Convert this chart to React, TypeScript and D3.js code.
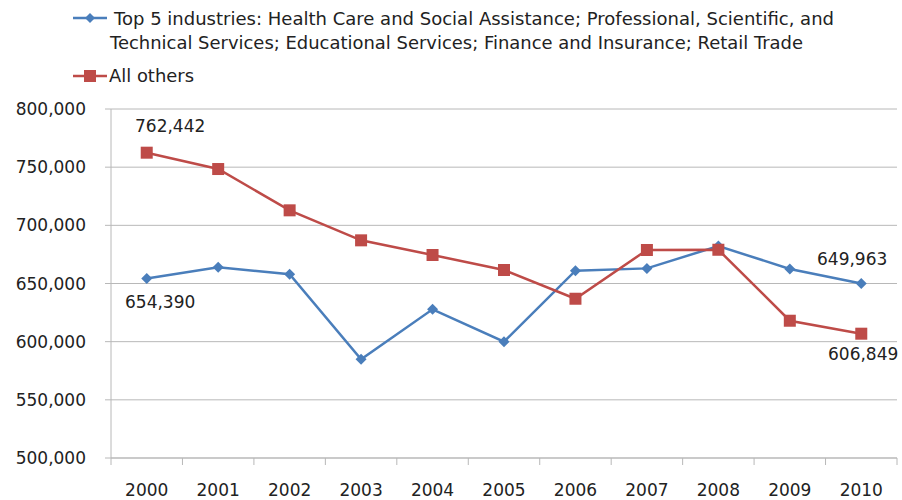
import React from "react";
import * as d3 from "d3";

const years = ["2000","2001","2002","2003","2004","2005","2006","2007","2008","2009","2010"];
const top5 = [654390, 663900, 657900, 584800, 627800, 600000, 661000, 663000, 682200, 662500, 649963];
const others = [762442, 748400, 712900, 687100, 674500, 661600, 636900, 678800, 679000, 618000, 606849];
const yTicks = [500000, 550000, 600000, 650000, 700000, 750000, 800000];
const legendTop5 = ["Top 5 industries: Health Care and Social Assistance; Professional, Scientific, and", "Technical Services; Educational Services; Finance and Insurance; Retail Trade"];
const legendOthers = "All others";

const BLUE = "#4a7ebb";
const RED = "#be4b48";

export default function App() {
  const W = 902, H = 500;
  const left = 111, right = 897, top = 109, bottom = 458;
  const x = d3.scaleBand().domain(years).range([left, right]);
  const y = d3.scaleLinear().domain([500000, 800000]).range([bottom, top]);
  const cx = (yr: string) => (x(yr) as number) + x.bandwidth() / 2;
  const line = d3.line<number>().x((_, i) => cx(years[i])).y((v) => y(v));
  const fmt = d3.format(",");
  const font = "DejaVu Sans, Verdana, sans-serif";
  const diamond = (px: number, py: number, r: number) => `M${px},${py - r}L${px + r},${py}L${px},${py + r}L${px - r},${py}Z`;
  const boundaries = years.map((yr) => x(yr) as number).concat([right]);
  return (
    <svg width={W} height={H} style={{ position: "absolute", left: 0, top: 0, background: "#fff" }}>
      {/* legend */}
      <line x1={73} x2={107} y1={18} y2={18} stroke={BLUE} strokeWidth={2.5} />
      <path d={diamond(90, 18, 5)} fill={BLUE} />
      <text x={114} y={25} fontFamily={font} fontSize={17} fill="#222" textLength={720} lengthAdjust="spacingAndGlyphs">{legendTop5[0]}</text>
      <text x={110} y={49} fontFamily={font} fontSize={17} fill="#222" textLength={693} lengthAdjust="spacingAndGlyphs">{legendTop5[1]}</text>
      <line x1={73} x2={107} y1={76} y2={76} stroke={RED} strokeWidth={2.5} />
      <rect x={84} y={70} width={12} height={12} fill={RED} />
      <text x={109} y={82} fontFamily={font} fontSize={17} fill="#222" textLength={85} lengthAdjust="spacingAndGlyphs">{legendOthers}</text>

      {/* gridlines */}
      {yTicks.map((t) => (
        <g key={t}>
          {t !== 500000 && <line x1={left} x2={right} y1={y(t)} y2={y(t)} stroke="#b8b8b8" strokeWidth={1} />}
          <line x1={left - 6} x2={left} y1={y(t)} y2={y(t)} stroke="#b8b8b8" strokeWidth={1} />
          <text x={86} y={y(t) + 6} textAnchor="end" fontFamily={font} fontSize={17} fill="#222">{fmt(t)}</text>
        </g>
      ))}
      <line x1={left} x2={left} y1={top} y2={bottom} stroke="#b8b8b8" strokeWidth={1} />
      <line x1={left} x2={right} y1={bottom} y2={bottom} stroke="#b8b8b8" strokeWidth={1.5} />
      {boundaries.map((b, i) => (
        <line key={i} x1={b} x2={b} y1={bottom} y2={bottom + 7} stroke="#b8b8b8" strokeWidth={1} />
      ))}
      {years.map((yr) => (
        <text key={yr} x={cx(yr)} y={496} textAnchor="middle" fontFamily={font} fontSize={17} fill="#222">{yr}</text>
      ))}

      {/* lines */}
      <path d={line(top5) || ""} fill="none" stroke={BLUE} strokeWidth={2.5} />
      <path d={line(others) || ""} fill="none" stroke={RED} strokeWidth={2.5} />
      {top5.map((v, i) => (
        <path key={"b" + i} d={diamond(cx(years[i]), y(v), 5.5)} fill={BLUE} />
      ))}
      {others.map((v, i) => (
        <rect key={"r" + i} x={cx(years[i]) - 6} y={y(v) - 6} width={12} height={12} fill={RED} />
      ))}

      {/* data labels */}
      <text x={135} y={132} fontFamily={font} fontSize={17} fill="#222">{fmt(others[0])}</text>
      <text x={125} y={308} fontFamily={font} fontSize={17} fill="#222">{fmt(top5[0])}</text>
      <text x={817} y={265} fontFamily={font} fontSize={17} fill="#222">{fmt(top5[10])}</text>
      <text x={828} y={360} fontFamily={font} fontSize={17} fill="#222">{fmt(others[10])}</text>
    </svg>
  );
}
